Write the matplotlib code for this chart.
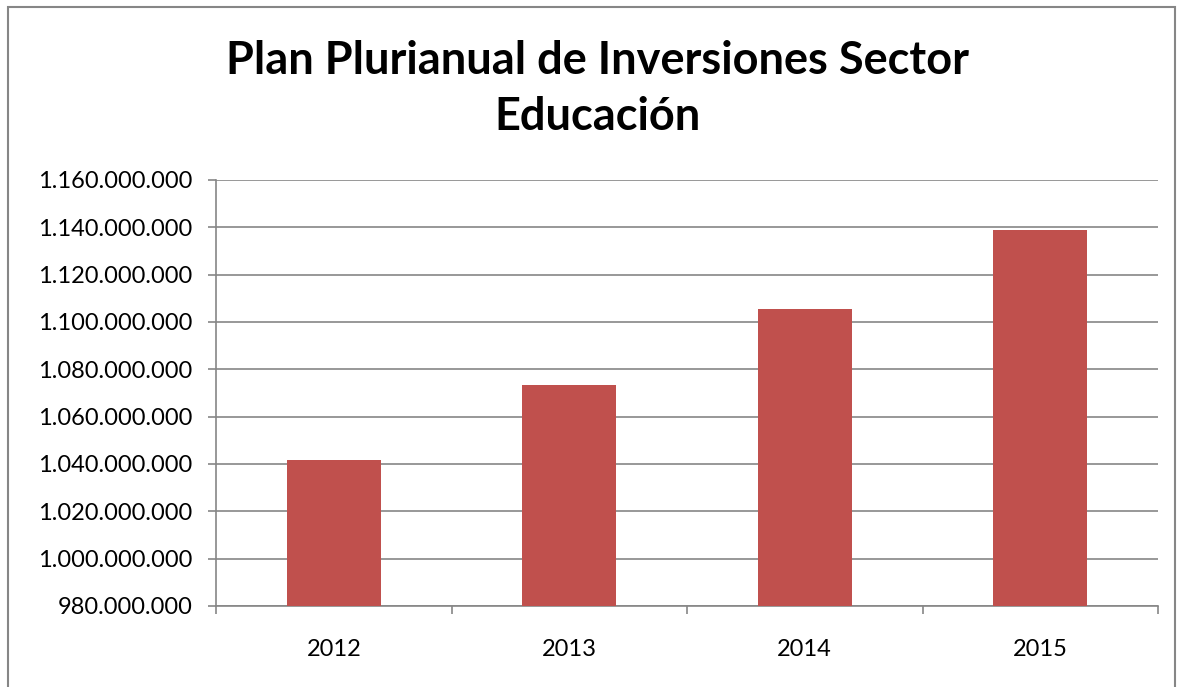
import matplotlib
matplotlib.use("Agg")
import matplotlib.pyplot as plt
from matplotlib.ticker import FuncFormatter, MultipleLocator
from matplotlib.patches import Rectangle

years = ["2012", "2013", "2014", "2015"]
values = [1041700000, 1073400000, 1105400000, 1138700000]
title = "Plan Plurianual de Inversiones Sector\nEducación"

plt.rcParams['font.family'] = ['Lato', 'DejaVu Sans']

W, H = 1181, 687
fig = plt.figure(figsize=(W / 100, H / 100), dpi=100)

# outer chart border
fig.patches.append(Rectangle((8 / W, -0.01), (1175 - 8) / W, (H - 7) / H + 0.01,
                             transform=fig.transFigure, fill=False,
                             edgecolor="#868686", linewidth=1.5))

ax = fig.add_axes([216 / W, (H - 606) / H, (1158 - 216) / W, (606 - 180) / H])

x = list(range(len(years)))
ax.bar(x, values, width=0.4, color="#C0504D", zorder=3)

ax.set_xlim(-0.5, len(years) - 0.5)
ax.set_ylim(980000000, 1160000000)
ax.yaxis.set_major_locator(MultipleLocator(20000000))
ax.yaxis.set_major_formatter(FuncFormatter(lambda v, p: f"{int(round(v)):,}".replace(",", ".")))

ax.set_xticks(x)
ax.set_xticklabels(years)
ax.set_xticks([i - 0.5 for i in range(len(years) + 1)], minor=True)
ax.tick_params(axis="x", which="major", length=0, pad=24, labelsize=17)
ax.tick_params(axis="x", which="minor", length=6, color="#868686", width=1.2)
ax.tick_params(axis="y", length=6, color="#868686", width=1.2, labelsize=17, pad=11)

ax.grid(axis="y", color="#868686", linewidth=1.2, zorder=0)
for s in ["top", "right"]:
    ax.spines[s].set_visible(False)
for s in ["left", "bottom"]:
    ax.spines[s].set_color("#868686")
    ax.spines[s].set_linewidth(1.2)

fig.text(597 / W, 1 - 89 / H, title, ha="center", va="center",
         fontsize=32.5, fontweight="bold", linespacing=1.4)

fig.savefig("out.png", dpi=100)
